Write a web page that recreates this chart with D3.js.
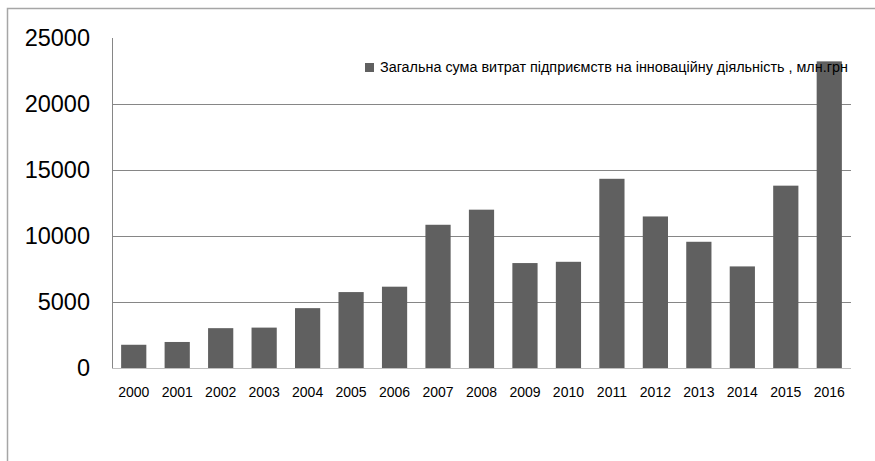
<!DOCTYPE html>
<html><head><meta charset="utf-8">
<script src="https://cdn.jsdelivr.net/npm/d3@7"></script>
<style>html,body{margin:0;padding:0;background:#fff;}svg{display:block;}</style>
</head><body>
<script>
const years = ["2000","2001","2002","2003","2004","2005","2006","2007","2008","2009","2010","2011","2012","2013","2014","2015","2016"];
const values = [1760.1,1971.4,3018.3,3059.8,4534.6,5751.6,6160.0,10850.9,11994.2,7949.9,8045.5,14333.9,11480.6,9562.6,7695.9,13813.7,23229.5];
const yTicks = [0,5000,10000,15000,20000,25000];
const seriesName = "Загальна сума витрат підприємств на інноваційну діяльність , млн.грн";

const W = 875, H = 461;
const svg = d3.select("body").append("svg").attr("width", W).attr("height", H);

// outer chart border (cropped)
svg.append("path").attr("d", `M7.5,${H} L7.5,8.5 L${W},8.5`)
  .attr("fill","none").attr("stroke","#a6a6a6").attr("stroke-width",1.5);

const plot = {left:112, right:851, top:38, bottom:368};
const x = d3.scaleBand().domain(years).range([plot.left, plot.right]).paddingInner(0.42).paddingOuter(0.21);
const y = d3.scaleLinear().domain([0,25000]).range([plot.bottom, plot.top]);

// gridlines
svg.append("g").selectAll("line").data(yTicks.filter(t => t > 0 && t < 25000)).join("line")
  .attr("x1", plot.left).attr("x2", plot.right)
  .attr("y1", d => Math.round(y(d))+0.5).attr("y2", d => Math.round(y(d))+0.5)
  .attr("stroke","#868686").attr("stroke-width",1);

// bars
svg.append("g").selectAll("rect").data(values).join("rect")
  .attr("x", (d,i) => x(years[i])).attr("width", x.bandwidth())
  .attr("y", d => y(d)).attr("height", d => y(0) - y(d))
  .attr("fill","#606060");

// y axis line
svg.append("line").attr("x1", plot.left+0.5).attr("x2", plot.left+0.5)
  .attr("y1", plot.top).attr("y2", plot.bottom).attr("stroke","#868686");
// x axis line
svg.append("line").attr("x1", plot.left).attr("x2", plot.right)
  .attr("y1", plot.bottom+0.5).attr("y2", plot.bottom+0.5).attr("stroke","#bfbfbf");

// y tick labels
const yAxis = d3.axisLeft(y).tickValues(yTicks).tickSize(0).tickPadding(22).tickFormat(d3.format("d"));
const yg = svg.append("g").attr("transform", `translate(${plot.left},0)`).call(yAxis);
yg.select(".domain").remove();
yg.selectAll("text").attr("font-family","Liberation Sans, Arial, sans-serif").attr("font-size","23.5px").attr("fill","#000");

// x tick labels
const xAxis = d3.axisBottom(x).tickSize(0).tickPadding(19);
const xg = svg.append("g").attr("transform", `translate(0,${plot.bottom})`).call(xAxis);
xg.select(".domain").remove();
xg.selectAll("text").attr("font-family","Liberation Sans, Arial, sans-serif").attr("font-size","14px").attr("fill","#000");

// legend
const lg = svg.append("g");
lg.append("rect").attr("x",365).attr("y",63).attr("width",9).attr("height",9).attr("fill","#606060");
const lt = lg.append("text").attr("x",380).attr("y",72).text(seriesName)
  .attr("font-family","Liberation Sans, Arial, sans-serif").attr("font-size","13px").attr("fill","#000");
const targetW = 468;
const w = lt.node().getComputedTextLength();
lt.attr("font-size", (13*targetW/w).toFixed(2)+"px");
</script>
</body></html>
